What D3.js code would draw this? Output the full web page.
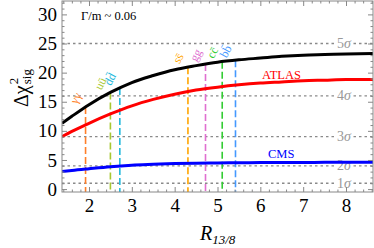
<!DOCTYPE html>
<html>
<head>
<meta charset="utf-8">
<script src="https://cdn.jsdelivr.net/npm/d3@7"></script>
<style>
  body { margin: 0; background: #fff; }
  text { font-family: "Liberation Serif", "DejaVu Serif", serif; }
</style>
</head>
<body>
<div id="chart"></div>
<script>
// chart size
let width_svg = 374;
let height_svg = 248;

// plot frame in pixels
let frame = { left: 62, right: 373, top: 1, bottom: 192 };

// data
let r_values   = [1.37, 1.6, 2.0, 2.5, 3.0, 3.5, 4.0, 4.5, 5.0, 5.5, 6.0, 6.5, 7.0, 7.5, 8.0, 8.63];
let combined   = [11.3, 12.5, 14.5, 16.6, 18.3, 19.5, 20.5, 21.2, 21.8, 22.2, 22.5, 22.8, 23.0, 23.1, 23.2, 23.3];
let atlas      = [9.0, 9.9, 11.3, 12.9, 14.3, 15.4, 16.3, 17.0, 17.5, 17.9, 18.2, 18.4, 18.6, 18.7, 18.8, 18.8];
let cms        = [3.0, 3.2, 3.5, 3.85, 4.1, 4.25, 4.38, 4.45, 4.5, 4.53, 4.55, 4.57, 4.58, 4.59, 4.6, 4.6];

let channel_names  = ["γγ", "uu\u0304", "dd\u0304", "ss\u0304", "gg", "cc\u0304", "bb\u0304"];
let channel_r      = [1.92, 2.50, 2.72, 4.31, 4.72, 5.11, 5.42];
let channel_colors = ["#ff7f2a", "#a8c830", "#22b8dc", "#ffa500", "#e070d0", "#33cc33", "#4499ff"];

let sigma_levels = [1, 4, 9, 16, 25];
let sigma_labels = ["1σ", "2σ", "3σ", "4σ", "5σ"];

let x_ticks = [2, 3, 4, 5, 6, 7, 8];
let y_ticks = [0, 5, 10, 15, 20, 25, 30];

//==========================================================
let svg = d3.select("#chart")
            .append("svg")
            .attr("width", width_svg)
            .attr("height", height_svg);

let x_scale = d3.scaleLinear().domain([1.37, 8.63]).range([frame.left, frame.right]);
let y_scale = d3.scaleLinear().domain([-0.5, 32.3]).range([frame.bottom, frame.top]);

// combined curve value at any R, used for where the channel lines start
let black_at = r => {
    let i = d3.bisectRight(r_values, r) - 1;
    i = Math.max(0, Math.min(r_values.length - 2, i));
    let t = (r - r_values[i]) / (r_values[i + 1] - r_values[i]);
    return combined[i] + t * (combined[i + 1] - combined[i]);
};

//==========================================================
// sigma lines
let sigma_g = svg.append("g");
sigma_g.selectAll("line")
       .data(sigma_levels)
       .enter()
       .append("line")
       .attr("x1", frame.left)
       .attr("x2", frame.right)
       .attr("y1", d => y_scale(d))
       .attr("y2", d => y_scale(d))
       .attr("stroke", "#8a8a8a")
       .attr("stroke-width", 1.3)
       .attr("stroke-dasharray", "2.5,3");

sigma_levels.forEach((s, i) => {
    sigma_g.append("rect")
           .attr("x", 335)
           .attr("y", y_scale(s) - 5)
           .attr("width", 17)
           .attr("height", 10)
           .attr("fill", "#fff");
    let t = sigma_g.append("text")
           .attr("x", 344)
           .attr("y", y_scale(s) + 4.5)
           .attr("text-anchor", "middle")
           .attr("font-size", 14)
           .attr("fill", "#999");
    t.append("tspan").text(sigma_labels[i].slice(0, 1));
    t.append("tspan").attr("font-style", "italic").text("σ");
});

//==========================================================
// channel dashed lines
let chan_g = svg.append("g");
chan_g.selectAll("line")
      .data(channel_r)
      .enter()
      .append("line")
      .attr("x1", d => x_scale(d))
      .attr("x2", d => x_scale(d))
      .attr("y1", d => y_scale(black_at(d)))
      .attr("y2", frame.bottom)
      .attr("stroke", (d, i) => channel_colors[i])
      .attr("stroke-width", 1.6)
      .attr("stroke-dasharray", "7,3");

channel_r.forEach((r, i) => {
    let cx = x_scale(r) - 10;
    let cy = y_scale(black_at(r)) - 9;
    chan_g.append("text")
          .attr("transform", `translate(${cx},${cy}) rotate(-62)`)
          .attr("text-anchor", "middle")
          .attr("dy", "0.35em")
          .attr("font-size", 12)
          .attr("fill", channel_colors[i])
          .text(channel_names[i]);
});

//==========================================================
// curves
let line_gen = vals => d3.line()
                        .curve(d3.curveMonotoneX)
                        .x((d, i) => x_scale(r_values[i]))
                        .y(d => y_scale(d))(vals);

svg.append("clipPath").attr("id", "plot-clip")
   .append("rect")
   .attr("x", frame.left).attr("y", frame.top)
   .attr("width", frame.right - frame.left)
   .attr("height", frame.bottom - frame.top);

[[combined, "#000"], [atlas, "#ff0000"], [cms, "#0000ff"]].forEach(([vals, col]) => {
    svg.append("path")
       .attr("d", line_gen(vals))
       .attr("fill", "none")
       .attr("stroke", col)
       .attr("stroke-width", 3)
       .attr("clip-path", "url(#plot-clip)");
});

svg.append("text").attr("x", 262).attr("y", 79)
   .attr("font-size", 12.5).attr("fill", "#ff0000").text("ATLAS");
svg.append("text").attr("x", 268).attr("y", 158)
   .attr("font-size", 12.5).attr("fill", "#0000ff").text("CMS");
svg.append("text").attr("x", 81).attr("y", 20)
   .attr("font-size", 12.5).attr("fill", "#000").text("Γ/m ~ 0.06");

//==========================================================
// frame and ticks
let frame_col = "#888";
let minor_x = d3.range(1.4, 8.61, 0.2).map(v => +v.toFixed(1)).filter(v => !x_ticks.includes(v));
let minor_y = d3.range(0, 33, 1).filter(v => !y_ticks.includes(v));

function style_axis(g) {
    g.select(".domain").remove();
    g.selectAll(".tick line").attr("stroke", frame_col);
    g.selectAll(".tick text").attr("font-size", 19).attr("fill", "#000")
     .attr("font-family", "Liberation Serif, serif");
}

let x_axis = svg.append("g").attr("transform", `translate(0,${frame.bottom})`)
                .call(d3.axisBottom(x_scale).tickValues(x_ticks).tickSize(-5).tickPadding(7));
style_axis(x_axis);
let x_minor = svg.append("g").attr("transform", `translate(0,${frame.bottom})`)
                 .call(d3.axisBottom(x_scale).tickValues(minor_x).tickSize(-2.5).tickFormat(""));
style_axis(x_minor);
let x_top = svg.append("g").attr("transform", `translate(0,${frame.top})`)
               .call(d3.axisTop(x_scale).tickValues(x_ticks).tickSize(-5).tickFormat(""));
style_axis(x_top);
let x_top_minor = svg.append("g").attr("transform", `translate(0,${frame.top})`)
                     .call(d3.axisTop(x_scale).tickValues(minor_x).tickSize(-2.5).tickFormat(""));
style_axis(x_top_minor);

let y_axis = svg.append("g").attr("transform", `translate(${frame.left},0)`)
                .call(d3.axisLeft(y_scale).tickValues(y_ticks).tickSize(-5).tickPadding(5));
style_axis(y_axis);
let y_minor = svg.append("g").attr("transform", `translate(${frame.left},0)`)
                 .call(d3.axisLeft(y_scale).tickValues(minor_y).tickSize(-2.5).tickFormat(""));
style_axis(y_minor);
let y_right = svg.append("g").attr("transform", `translate(${frame.right},0)`)
                 .call(d3.axisRight(y_scale).tickValues(y_ticks).tickSize(-5).tickFormat(""));
style_axis(y_right);
let y_right_minor = svg.append("g").attr("transform", `translate(${frame.right},0)`)
                       .call(d3.axisRight(y_scale).tickValues(minor_y).tickSize(-2.5).tickFormat(""));
style_axis(y_right_minor);

svg.append("rect")
   .attr("x", frame.left).attr("y", frame.top)
   .attr("width", frame.right - frame.left)
   .attr("height", frame.bottom - frame.top)
   .attr("fill", "none")
   .attr("stroke", frame_col)
   .attr("stroke-width", 1);

//==========================================================
// axis titles
let x_title = svg.append("text").attr("x", 200).attr("y", 240)
                 .attr("font-size", 20).attr("font-style", "italic");
x_title.append("tspan").text("R");
x_title.append("tspan").attr("font-size", 13).attr("dy", 4).text("13/8");

let y_title = svg.append("g").attr("transform", "translate(28,107) rotate(-90)");
let dchi = y_title.append("text").attr("x", 0).attr("y", 0).attr("font-size", 20).text("Δχ");
let w = dchi.node().getComputedTextLength();
y_title.append("text").attr("x", w + 1).attr("y", -10).attr("font-size", 13).text("2");
y_title.append("text").attr("x", w + 1).attr("y", 3).attr("font-size", 13).text("sig");
</script>
</body>
</html>
